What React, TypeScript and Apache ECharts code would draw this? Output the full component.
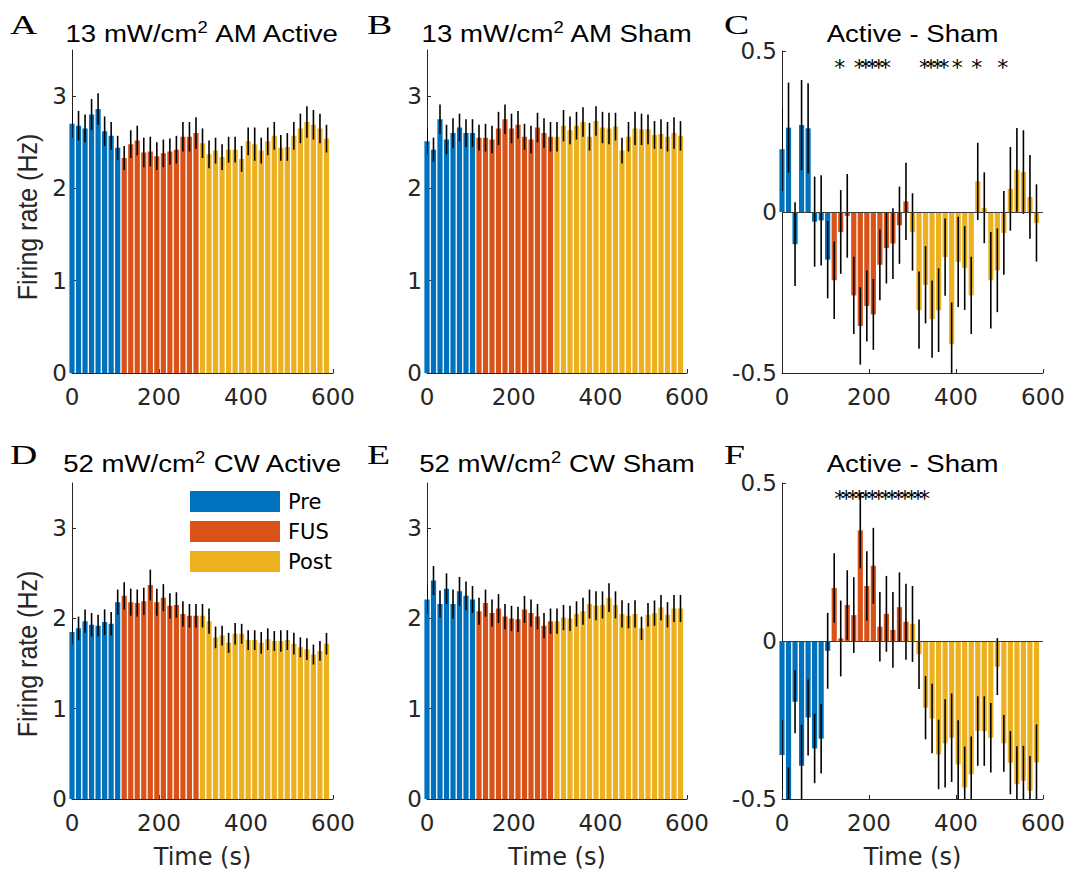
import React, { useEffect, useRef } from 'react';
import * as echarts from 'echarts';

// ---- time bins (s) ----
const PRE_T = [0, 15, 30, 45, 60, 75, 90, 105];
const FUS_T = [120, 135, 150, 165, 180, 195, 210, 225, 240, 255, 270, 285];
const POST_T = [300, 315, 330, 345, 360, 375, 390, 405, 420, 435, 450, 465, 480, 495, 510, 525, 540, 555, 570, 585];

// ---- panel A: 13 mW/cm2 AM Active ----
const A_MEAN = [2.70, 2.68, 2.65, 2.80, 2.86, 2.62, 2.57, 2.44,
  2.33, 2.48, 2.52, 2.39, 2.40, 2.35, 2.38, 2.40, 2.42, 2.56, 2.56, 2.60,
  2.49, 2.37, 2.41, 2.34, 2.42, 2.42, 2.32, 2.51, 2.48, 2.41, 2.51, 2.57, 2.44, 2.45, 2.57, 2.65, 2.72, 2.69, 2.65, 2.54];
const A_ERR = [0.15, 0.16, 0.15, 0.17, 0.17, 0.16, 0.15, 0.13,
  0.13, 0.15, 0.16, 0.16, 0.16, 0.15, 0.15, 0.14, 0.15, 0.16, 0.16, 0.17,
  0.16, 0.15, 0.14, 0.14, 0.14, 0.14, 0.14, 0.15, 0.18, 0.14, 0.15, 0.15, 0.14, 0.15, 0.15, 0.16, 0.17, 0.16, 0.16, 0.15];

// ---- panel B: 13 mW/cm2 AM Sham ----
const B_MEAN = [2.51, 2.42, 2.75, 2.53, 2.60, 2.66, 2.60, 2.60,
  2.55, 2.55, 2.53, 2.65, 2.75, 2.65, 2.69, 2.56, 2.53, 2.66, 2.60, 2.56,
  2.56, 2.68, 2.63, 2.68, 2.72, 2.56, 2.73, 2.66, 2.65, 2.67, 2.41, 2.56, 2.65, 2.64, 2.64, 2.58, 2.59, 2.56, 2.60, 2.57];
const B_ERR = [0.14, 0.13, 0.16, 0.16, 0.16, 0.15, 0.15, 0.15,
  0.14, 0.15, 0.15, 0.18, 0.16, 0.16, 0.15, 0.14, 0.15, 0.16, 0.16, 0.16,
  0.16, 0.17, 0.15, 0.15, 0.16, 0.15, 0.16, 0.17, 0.17, 0.15, 0.14, 0.16, 0.18, 0.17, 0.16, 0.15, 0.16, 0.16, 0.17, 0.16];

// ---- panel C: Active - Sham (AM) ----
const C_MEAN = [0.195, 0.262, -0.10, 0.27, 0.26, -0.03, -0.026, -0.148,
  -0.212, -0.062, -0.012, -0.259, -0.354, -0.292, -0.318, -0.164, -0.112, -0.098, -0.041, 0.033,
  -0.062, -0.305, -0.226, -0.333, -0.305, -0.140, -0.411, -0.155, -0.174, -0.259, 0.095, 0.013, -0.212, -0.181, -0.065, 0.072, 0.131, 0.124, 0.047, -0.034];
const C_ERR = [0.13, 0.14, 0.13, 0.14, 0.14, 0.14, 0.14, 0.12,
  0.12, 0.13, 0.13, 0.12, 0.12, 0.11, 0.11, 0.11, 0.11, 0.11, 0.12, 0.12,
  0.12, 0.12, 0.12, 0.12, 0.13, 0.12, 0.13, 0.14, 0.13, 0.12, 0.12, 0.11, 0.15, 0.13, 0.13, 0.13, 0.13, 0.13, 0.13, 0.12];
const C_SIG = [120, 165, 180, 195, 210, 225, 315, 330, 345, 360, 390, 435, 495];

// ---- panel D: 52 mW/cm2 CW Active ----
const D_MEAN = [1.85, 1.89, 1.97, 1.93, 1.92, 1.96, 1.94, 2.18,
  2.25, 2.18, 2.17, 2.19, 2.37, 2.18, 2.23, 2.14, 2.15, 2.05, 2.03, 2.03,
  2.03, 1.97, 1.79, 1.81, 1.73, 1.83, 1.83, 1.76, 1.76, 1.73, 1.77, 1.75, 1.75, 1.76, 1.72, 1.68, 1.66, 1.60, 1.64, 1.72];
const D_ERR = [0.14, 0.13, 0.13, 0.13, 0.12, 0.14, 0.13, 0.14,
  0.15, 0.15, 0.15, 0.15, 0.17, 0.15, 0.15, 0.14, 0.14, 0.14, 0.13, 0.13,
  0.13, 0.14, 0.12, 0.11, 0.11, 0.12, 0.11, 0.11, 0.11, 0.12, 0.12, 0.11, 0.12, 0.11, 0.12, 0.11, 0.12, 0.11, 0.11, 0.12];

// ---- panel E: 52 mW/cm2 CW Sham ----
const E_MEAN = [2.21, 2.42, 2.16, 2.33, 2.16, 2.30, 2.25, 2.21,
  2.08, 2.17, 2.06, 2.11, 2.02, 2.00, 1.99, 2.10, 2.06, 2.02, 1.92, 1.97,
  1.97, 2.01, 2.00, 2.05, 2.08, 2.16, 2.14, 2.15, 2.23, 2.15, 2.05, 2.03, 2.05, 1.89, 2.04, 2.06, 2.12, 2.04, 2.11, 2.11];
const E_ERR = [0.16, 0.16, 0.15, 0.17, 0.16, 0.16, 0.16, 0.15,
  0.15, 0.15, 0.15, 0.16, 0.14, 0.14, 0.14, 0.15, 0.15, 0.14, 0.14, 0.14,
  0.14, 0.14, 0.14, 0.14, 0.15, 0.16, 0.16, 0.15, 0.16, 0.15, 0.15, 0.14, 0.15, 0.13, 0.13, 0.14, 0.14, 0.14, 0.15, 0.15];

// ---- panel F: Active - Sham (CW) ----
const F_MEAN = [-0.361, -0.52, -0.192, -0.395, -0.242, -0.340, -0.309, -0.031,
  0.168, 0.008, 0.114, 0.082, 0.350, 0.174, 0.238, 0.045, 0.086, 0.035, 0.107, 0.061,
  0.054, -0.042, -0.211, -0.245, -0.359, -0.324, -0.306, -0.391, -0.464, -0.422, -0.285, -0.285, -0.306, -0.081, -0.324, -0.385, -0.453, -0.442, -0.474, -0.384];
const F_ERR = [0.11, 0.12, 0.10, 0.13, 0.12, 0.11, 0.11, 0.12,
  0.11, 0.12, 0.11, 0.12, 0.12, 0.11, 0.12, 0.11, 0.12, 0.12, 0.11, 0.12,
  0.12, 0.11, 0.10, 0.11, 0.11, 0.14, 0.14, 0.14, 0.13, 0.12, 0.11, 0.11, 0.11, 0.09, 0.09, 0.10, 0.12, 0.11, 0.11, 0.12];
const F_SIG = [120, 135, 150, 165, 180, 195, 210, 225, 240, 255, 270, 285, 300, 315];

const SIG_LEVEL = 0.45;
const RATE_TICKS = [0, 1, 2, 3];
const DIFF_TICKS = [-0.5, 0, 0.5];
const PHASES = ['Pre', 'FUS', 'Post'];

// ---- styles / layout ----
const COLORS = ['#0072BD', '#D95319', '#EDB120'];
const AX = '#262626';
const FONT = "'DejaVu Sans', sans-serif";
const ARIAL = "'Liberation Sans', Arial, sans-serif";
const SERIF = "'Liberation Serif', 'Times New Roman', serif";
const GRIDS = [
  { left: 72, top: 50, width: 261, height: 323 },
  { left: 427, top: 50, width: 260, height: 323 },
  { left: 782, top: 51, width: 261, height: 322 },
  { left: 72, top: 483, width: 261, height: 316 },
  { left: 427, top: 483, width: 260, height: 316 },
  { left: 782, top: 483, width: 261, height: 316 },
];

const PANELS = [
  { mean: A_MEAN, err: A_ERR, diff: false, title: '13 mW/cm{sup|2} AM Active', letter: 'A', yName: true, xName: false, sig: null as number[] | null },
  { mean: B_MEAN, err: B_ERR, diff: false, title: '13 mW/cm{sup|2} AM Sham', letter: 'B', yName: false, xName: false, sig: null },
  { mean: C_MEAN, err: C_ERR, diff: true, title: 'Active - Sham', letter: 'C', yName: false, xName: false, sig: C_SIG },
  { mean: D_MEAN, err: D_ERR, diff: false, title: '52 mW/cm{sup|2} CW Active', letter: 'D', yName: true, xName: true, sig: null },
  { mean: E_MEAN, err: E_ERR, diff: false, title: '52 mW/cm{sup|2} CW Sham', letter: 'E', yName: false, xName: true, sig: null },
  { mean: F_MEAN, err: F_ERR, diff: true, title: 'Active - Sham', letter: 'F', yName: false, xName: true, sig: F_SIG },
];

function buildOption() {
  const grids: any[] = [];
  const xAxes: any[] = [];
  const yAxes: any[] = [];
  const series: any[] = [];
  const graphics: any[] = [];
  const phaseTimes = [PRE_T, FUS_T, POST_T];

  PANELS.forEach((p, i) => {
    const g = GRIDS[i];
    grids.push({ ...g, containLabel: false, outerBoundsMode: 'none' });
    xAxes.push({
      type: 'value', gridIndex: i, min: 0, max: 600, interval: 200,
      axisLine: { show: true, onZero: false, lineStyle: { color: AX, width: 1 } },
      axisTick: { show: true, inside: true, length: 4, lineStyle: { color: AX, width: 1 } },
      axisLabel: { fontSize: 23, fontFamily: FONT, color: AX, margin: 12 },
      splitLine: { show: false },
      name: p.xName ? 'Time (s)' : '', nameLocation: 'middle', nameGap: 46,
      nameTextStyle: { fontSize: 24, fontFamily: FONT, color: AX },
    });
    const ticks = p.diff ? DIFF_TICKS : RATE_TICKS;
    yAxes.push({
      type: 'value', gridIndex: i,
      min: p.diff ? -0.5 : 0, max: p.diff ? 0.5 : 3.5, interval: p.diff ? 0.5 : 1,
      axisLine: { show: true, onZero: false, lineStyle: { color: AX, width: 1 } },
      axisTick: { show: true, inside: true, length: 4, customValues: ticks, lineStyle: { color: AX, width: 1 } },
      axisLabel: { customValues: ticks, fontSize: 23, fontFamily: FONT, color: AX, margin: 5,
        formatter: (v: number) => (v === 3.5 ? '' : String(v)) },
      splitLine: { show: false },
    });

    let offset = 0;
    phaseTimes.forEach((times, k) => {
      const s: any = {
        type: 'bar', name: PHASES[k], xAxisIndex: i, yAxisIndex: i,
        data: times.map((t, j) => [t, p.mean[offset + j]]),
        barWidth: 5.2, barGap: '-100%', clip: true, silent: true,
        itemStyle: { color: COLORS[k] }, z: 2,
      };
      if (p.diff && k === 0) {
        s.markLine = {
          silent: true, symbol: ['none', 'none'], label: { show: false },
          lineStyle: { color: '#3a3a3a', width: 1.2, type: 'solid' },
          data: [{ yAxis: 0 }], z: 5,
        };
      }
      series.push(s);
      offset += times.length;
    });

    const allT = [...PRE_T, ...FUS_T, ...POST_T];
    series.push({
      type: 'custom', xAxisIndex: i, yAxisIndex: i, clip: true, silent: true, z: 4,
      data: allT.map((t, j) => [t, p.mean[j], p.err[j]]),
      encode: { x: 0, y: 1 },
      renderItem: (params: any, api: any) => {
        const x = api.value(0), m = api.value(1), e = api.value(2);
        const a = api.coord([x, m - e]);
        const b = api.coord([x, m + e]);
        return { type: 'line', shape: { x1: a[0], y1: a[1], x2: b[0], y2: b[1] }, style: { stroke: '#000', lineWidth: 1.6 } };
      },
    });

    if (p.sig) {
      series.push({
        type: 'custom', xAxisIndex: i, yAxisIndex: i, clip: false, silent: true, z: 6,
        data: p.sig.map((t) => [t, SIG_LEVEL]),
        encode: { x: 0, y: 1 },
        renderItem: (params: any, api: any) => {
          const c = api.coord([api.value(0), api.value(1)]);
          return { type: 'text', x: c[0], y: c[1], style: { text: '*', fontSize: 22, fontFamily: FONT, fill: '#000', align: 'left', verticalAlign: 'middle' } };
        },
      });
    }

    const cx = g.left + g.width / 2;
    const row = i < 3 ? 0 : 1;
    graphics.push({
      type: 'text', x: cx, y: row === 0 ? 34 : 464, scaleX: 1.15, silent: true,
      style: {
        text: p.title, fontFamily: ARIAL, fontSize: 24, fill: '#000', align: 'center', verticalAlign: 'middle', lineHeight: 30,
        rich: { sup: { fontSize: 16, fontFamily: ARIAL, lineHeight: 12, verticalAlign: 'top', fill: '#000' } },
      },
    });
    const lx = [10, 367, 724][i % 3];
    graphics.push({
      type: 'text', x: lx, y: row === 0 ? 24 : 454.5, scaleX: 1.35, silent: true,
      style: { text: p.letter, fontFamily: SERIF, fontSize: 28, fill: '#000', align: 'left', verticalAlign: 'middle' },
    });
    if (p.yName) {
      graphics.push({
        type: 'text', x: 28, y: row === 0 ? 217 : 654, rotation: Math.PI / 2, scaleY: 1.12, silent: true,
        style: { text: 'Firing rate (Hz)', fontFamily: ARIAL, fontSize: 25, fill: AX, align: 'center', verticalAlign: 'middle' },
      });
    }
  });

  return {
    animation: false,
    backgroundColor: '#fff',
    textStyle: { fontFamily: FONT },
    grid: grids,
    xAxis: xAxes,
    yAxis: yAxes,
    legend: {
      data: PHASES, orient: 'vertical', left: 190, top: 491, padding: 0,
      itemWidth: 90, itemHeight: 21, itemGap: 9, icon: 'rect', selectedMode: false,
      textStyle: { fontSize: 21, fontFamily: FONT, color: '#000', lineHeight: 21, padding: [0, 0, 0, 3] },
    },
    series,
    graphic: graphics,
  };
}

export default function App() {
  const ref = useRef<HTMLDivElement>(null);
  useEffect(() => {
    const chart = echarts.init(ref.current!, null, { renderer: 'svg' });
    chart.setOption(buildOption() as any);
    return () => chart.dispose();
  }, []);
  return <div ref={ref} style={{ position: 'absolute', left: 0, top: 0, width: 1068, height: 875, background: '#fff' }} />;
}
